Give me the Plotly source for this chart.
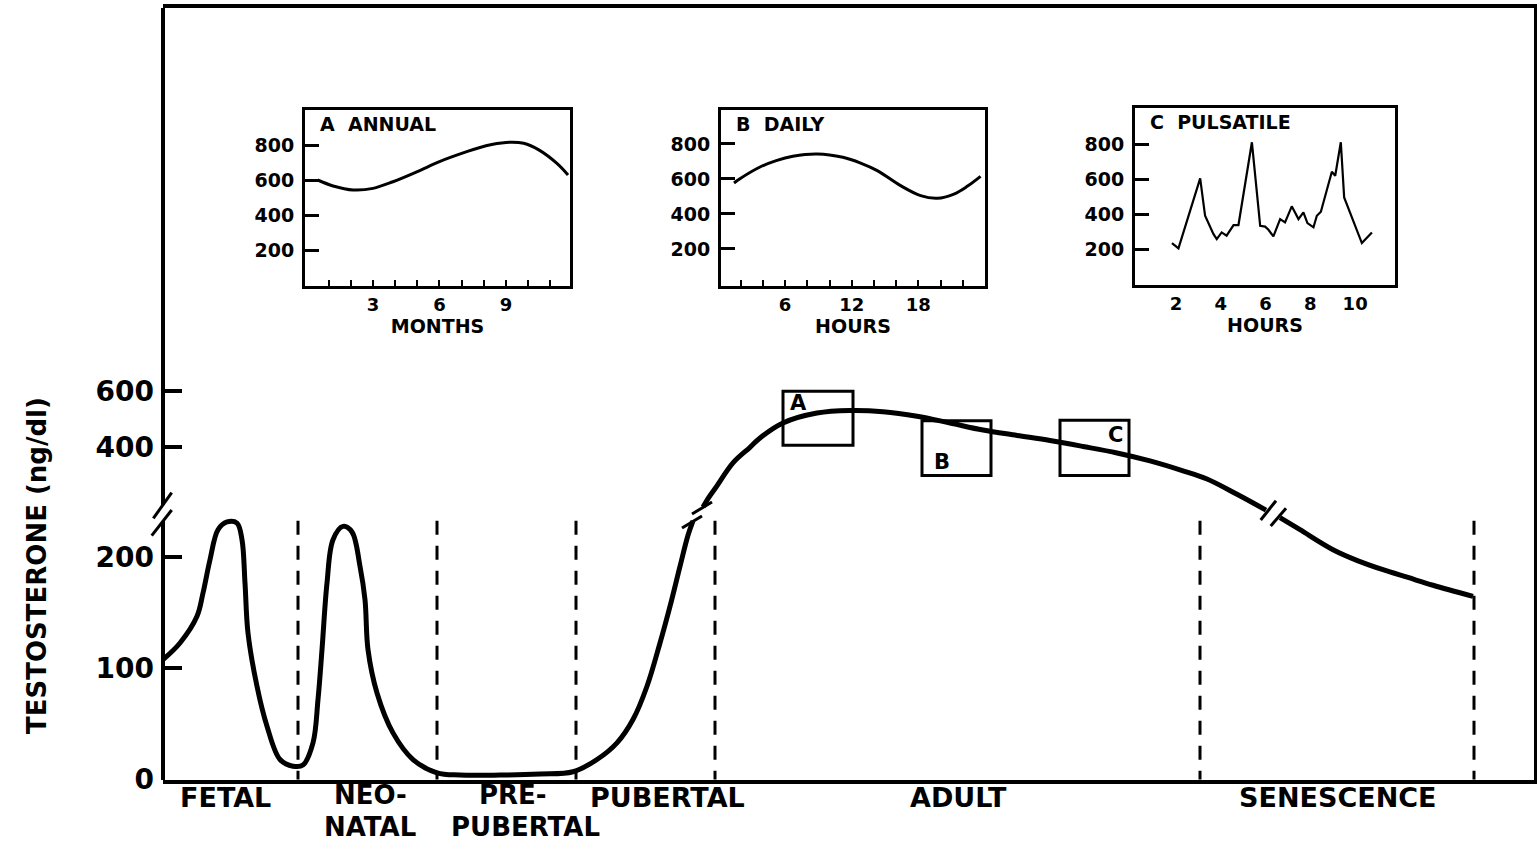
import plotly.graph_objects as go

# ---------------------------------------------------------------- data
# Life-stage axis (arbitrary units along the lifespan) and stage boundaries
stage_row1 = ["FETAL", "NEO-", "PRE-", "PUBERTAL", "ADULT", "SENESCENCE"]
stage_row2 = ["", "NATAL", "PUBERTAL", "", "", ""]
stage_bounds = [135, 274, 413, 552, 1037, 1311]

# Fetal surge, neonatal surge, prepubertal trough and pubertal rise (ng/dl, lower scale)
early_x = [0, 17, 34, 40, 47, 55, 64, 74, 79, 82, 85, 94, 104, 117, 130, 140, 150, 155, 159, 164,
           170, 180, 189, 197, 202, 205, 214, 230, 250, 274, 297, 337, 377, 410, 434, 454, 470, 484,
           497, 507, 517, 525, 530]
early_t = [108, 123, 147, 168, 198, 225, 232, 231, 216, 177, 132, 84, 48, 18, 12, 13, 33, 72, 117, 177,
           216, 228, 223, 192, 162, 117, 78, 42, 18, 6, 4, 4, 5, 7, 18, 33, 54, 84,
           123, 156, 192, 220, 233]

# Adult plateau (ng/dl, upper scale)
adult_x = [540, 546, 553, 570, 587, 597, 620, 654, 687, 720, 754, 787, 820, 854, 887, 920, 954, 987,
           1020, 1044, 1074, 1103]
adult_t = [189, 224, 259, 345, 400, 433, 486, 521, 530, 526, 510, 486, 461, 442, 424, 403, 380, 352,
           317, 288, 234, 178]

# Senescent decline (ng/dl, lower scale)
late_x = [1117, 1137, 1170, 1195, 1220, 1245, 1270, 1310]
late_t = [236, 225, 207, 197, 189, 182, 175, 165]

# Sampling windows on the adult curve (upper scale)
window_labels = ["A", "B", "C"]
window_x0 = [620, 759, 897]
window_x1 = [690, 828, 966]
window_lo = [407, 300, 300]
window_hi = [598, 494, 496]

# Inset A: annual rhythm
annual_month = [0.5, 1.2, 2.1, 3.0, 3.9, 5.0, 6.0, 7.1, 8.1, 9.0, 9.8, 10.5, 11.3, 11.8]
annual_t = [600, 566, 543, 552, 590, 648, 705, 756, 796, 815, 810, 771, 695, 629]

# Inset B: daily rhythm
daily_hour = [1.4, 1.9, 3.7, 5.2, 6.7, 8.9, 11.2, 12.8, 14.3, 16.4, 18.2, 19.7, 21.2, 22.4, 23.6]
daily_t = [577, 600, 667, 705, 730, 743, 724, 691, 648, 562, 505, 490, 514, 558, 615]

# Inset C: pulsatile secretion
pulse_hour = [1.82, 2.11, 3.08, 3.30, 3.67, 3.82, 4.04, 4.26, 4.57, 4.79, 5.39, 5.76, 5.98, 6.13, 6.35,
              6.65, 6.87, 7.17, 7.47, 7.69, 7.87, 8.14, 8.29, 8.47, 8.96, 9.11, 9.36, 9.51, 10.30, 10.75]
pulse_t = [234, 204, 604, 390, 286, 257, 295, 276, 337, 337, 810, 333, 328, 310, 272,
           371, 352, 444, 371, 409, 348, 324, 390, 413, 642, 619, 810, 495, 234, 295]

inset_ticks = [200, 400, 600, 800]

# ---------------------------------------------------------------- layout helpers
W, H = 1538, 843
ML, MR, MT, MB = 163, 1, 8, 63
PW, PH = W - ML - MR, H - MT - MB
FONT = "DejaVu Sans"
INK = "black"


def px(x):
    return (x - ML) / PW


def py(y):
    return (H - MB - y) / PH


def seg(x0, y0, x1, y1, width=4, dash=None):
    line = dict(color=INK, width=width)
    if dash:
        line["dash"] = dash
    return dict(type="line", xref="paper", yref="paper",
                x0=px(x0), y0=py(y0), x1=px(x1), y1=py(y1), line=line)


fig = go.Figure()

# main curve: three pieces around the scale breaks
curve_line = dict(color=INK, width=5, shape="spline", smoothing=1.0)
fig.add_trace(go.Scatter(x=early_x, y=early_t, mode="lines", xaxis="x", yaxis="y",
                         line=curve_line, showlegend=False, hoverinfo="skip"))
fig.add_trace(go.Scatter(x=adult_x, y=adult_t, mode="lines", xaxis="x", yaxis="y2",
                         line=curve_line, showlegend=False, hoverinfo="skip"))
fig.add_trace(go.Scatter(x=late_x, y=late_t, mode="lines", xaxis="x", yaxis="y",
                         line=curve_line, showlegend=False, hoverinfo="skip"))

# insets
fig.add_trace(go.Scatter(x=annual_month, y=annual_t, mode="lines", xaxis="x3", yaxis="y3",
                         line=dict(color=INK, width=3, shape="spline", smoothing=1.0),
                         showlegend=False, hoverinfo="skip"))
fig.add_trace(go.Scatter(x=daily_hour, y=daily_t, mode="lines", xaxis="x4", yaxis="y4",
                         line=dict(color=INK, width=3, shape="spline", smoothing=1.0),
                         showlegend=False, hoverinfo="skip"))
fig.add_trace(go.Scatter(x=pulse_hour, y=pulse_t, mode="lines", xaxis="x5", yaxis="y5",
                         line=dict(color=INK, width=2.2),
                         showlegend=False, hoverinfo="skip"))

shapes = []
# stage boundaries
for b in stage_bounds:
    shapes.append(dict(type="line", xref="x", yref="y", x0=b, x1=b, y0=233, y1=0,
                       line=dict(color=INK, width=3, dash="14px,11px")))
# sampling windows
for x0, x1, lo, hi in zip(window_x0, window_x1, window_lo, window_hi):
    shapes.append(dict(type="rect", xref="x", yref="y2", x0=x0, x1=x1, y0=lo, y1=hi,
                       line=dict(color=INK, width=3)))

# broken left axis line and its break marks
shapes += [seg(163, 8, 163, 505), seg(163, 521, 163, 780),
           seg(151.7, 535.7, 171.7, 510, 3), seg(153.3, 518.3, 171.7, 492.7, 3)]
# break marks on the curve
shapes += [seg(682, 528, 702, 516, 3), seg(692, 514, 712, 502, 3),
           seg(1260.7, 520, 1276, 500.7, 3), seg(1270.7, 526, 1286, 508.3, 3)]
# right border of the frame
shapes.append(seg(1535.5, 8, 1535.5, 780, 3))

annotations = []
# stage labels: single-row names centred under the axis, two-row names stacked
row1_x = [62, 207, 350, 504, 795, 1175]
row2_x = [207, 362]
LABEL_SPLIT = py(811)
for name, second, x in zip(stage_row1, stage_row2, row1_x):
    if second:
        annotations.append(dict(text=name, x=x, y=LABEL_SPLIT, xref="x", yref="paper",
                                showarrow=False, xanchor="center", yanchor="bottom",
                                borderpad=0, font=dict(size=26)))
    else:
        annotations.append(dict(text=name, x=x, y=py(797), xref="x", yref="paper",
                                showarrow=False, xanchor="center", yanchor="middle",
                                font=dict(size=27)))
for name, x in zip([s for s in stage_row2 if s], row2_x):
    annotations.append(dict(text=name, x=x, y=LABEL_SPLIT, xref="x", yref="paper",
                            showarrow=False, xanchor="center", yanchor="top",
                            borderpad=0, font=dict(size=26)))
# y title
annotations.append(dict(text="TESTOSTERONE (ng/dl)", x=px(37), y=py(566), xref="paper", yref="paper",
                        textangle=-90, showarrow=False, xanchor="center", yanchor="middle",
                        font=dict(size=26)))
# window letters
window_text_pos = [(635, 556), (779, 349), (952, 443)]
for lab, (x, y) in zip(window_labels, window_text_pos):
    annotations.append(dict(text=lab, x=x, y=y, xref="x", yref="y2", showarrow=False,
                            xanchor="center", yanchor="middle", font=dict(size=21)))
# inset titles
for ax, title in [("3", "A\u00a0\u00a0ANNUAL"), ("4", "B\u00a0\u00a0DAILY"), ("5", "C\u00a0\u00a0PULSATILE")]:
    annotations.append(dict(text=title, x=0.05, y=0.92, xref=f"x{ax} domain", yref=f"y{ax} domain",
                            showarrow=False, xanchor="left", yanchor="middle", font=dict(size=19)))


def inset_x(dom, rng, tickvals, ticktext, title, ticks="inside"):
    return dict(domain=dom, range=rng, tickvals=tickvals, ticktext=ticktext, ticks=ticks,
                ticklen=6, tickwidth=2, tickcolor=INK, showline=True, mirror=True, linewidth=3,
                linecolor=INK, showgrid=False, zeroline=False, tickfont=dict(size=18),
                title=dict(text=title, font=dict(size=19), standoff=1), fixedrange=True)


def inset_y(dom, rng, anchor):
    return dict(domain=dom, range=rng, tickvals=inset_ticks, ticks="inside", ticklen=14,
                tickwidth=3, tickcolor=INK, showline=True, mirror=True, linewidth=3, linecolor=INK,
                showgrid=False, zeroline=False, tickfont=dict(size=19), ticklabelstandoff=4,
                anchor=anchor, fixedrange=True)


months = list(range(1, 12))
hours_b = list(range(2, 24, 2))
fig.update_layout(
    width=W, height=H,
    margin=dict(l=ML, r=MR, t=MT, b=MB),
    paper_bgcolor="white", plot_bgcolor="white",
    font=dict(family=FONT, color=INK, weight="bold"),
    showlegend=False,
    xaxis=dict(domain=[0, 1], range=[0, PW], showticklabels=False, ticks="", showline=True,
               mirror=True, linewidth=4, linecolor=INK, showgrid=False, zeroline=False,
               fixedrange=True),
    yaxis=dict(range=[-0.45, 695], tickvals=[0, 100, 200], ticks="inside", ticklen=19,
               tickwidth=4, tickcolor=INK, showline=False, showgrid=False, zeroline=False,
               tickfont=dict(size=28), ticklabelstandoff=8, fixedrange=True),
    yaxis2=dict(range=[-775.6, 1952.3], overlaying="y", side="left", tickvals=[400, 600],
                ticks="inside", ticklen=19, tickwidth=4, tickcolor=INK, showline=False,
                showgrid=False, zeroline=False, tickfont=dict(size=28), ticklabelstandoff=8,
                fixedrange=True),
    xaxis3=inset_x([px(305), px(570)], [-0.07, 11.89], months,
                   [str(m) if m % 3 == 0 else "" for m in months], "MONTHS"),
    yaxis3=inset_y([py(286), py(110)], [-5.7, 1000], "x3"),
    xaxis4=inset_x([px(721), px(985)], [0.23, 24.0], hours_b,
                   [str(h) if h % 6 == 0 else "" for h in hours_b], "HOURS"),
    yaxis4=inset_y([py(286), py(110)], [-11.4, 994], "x4"),
    xaxis5=inset_x([px(1135), px(1395)], [0.17, 11.78], [2, 4, 6, 8, 10],
                   ["2", "4", "6", "8", "10"], "HOURS", ticks=""),
    yaxis5=inset_y([py(285), py(108)], [-5.7, 1006], "x5"),
    shapes=shapes,
    annotations=annotations,
)
fig.layout.xaxis3.anchor = "y3"
fig.layout.xaxis4.anchor = "y4"
fig.layout.xaxis5.anchor = "y5"

fig.write_html("out.html")
